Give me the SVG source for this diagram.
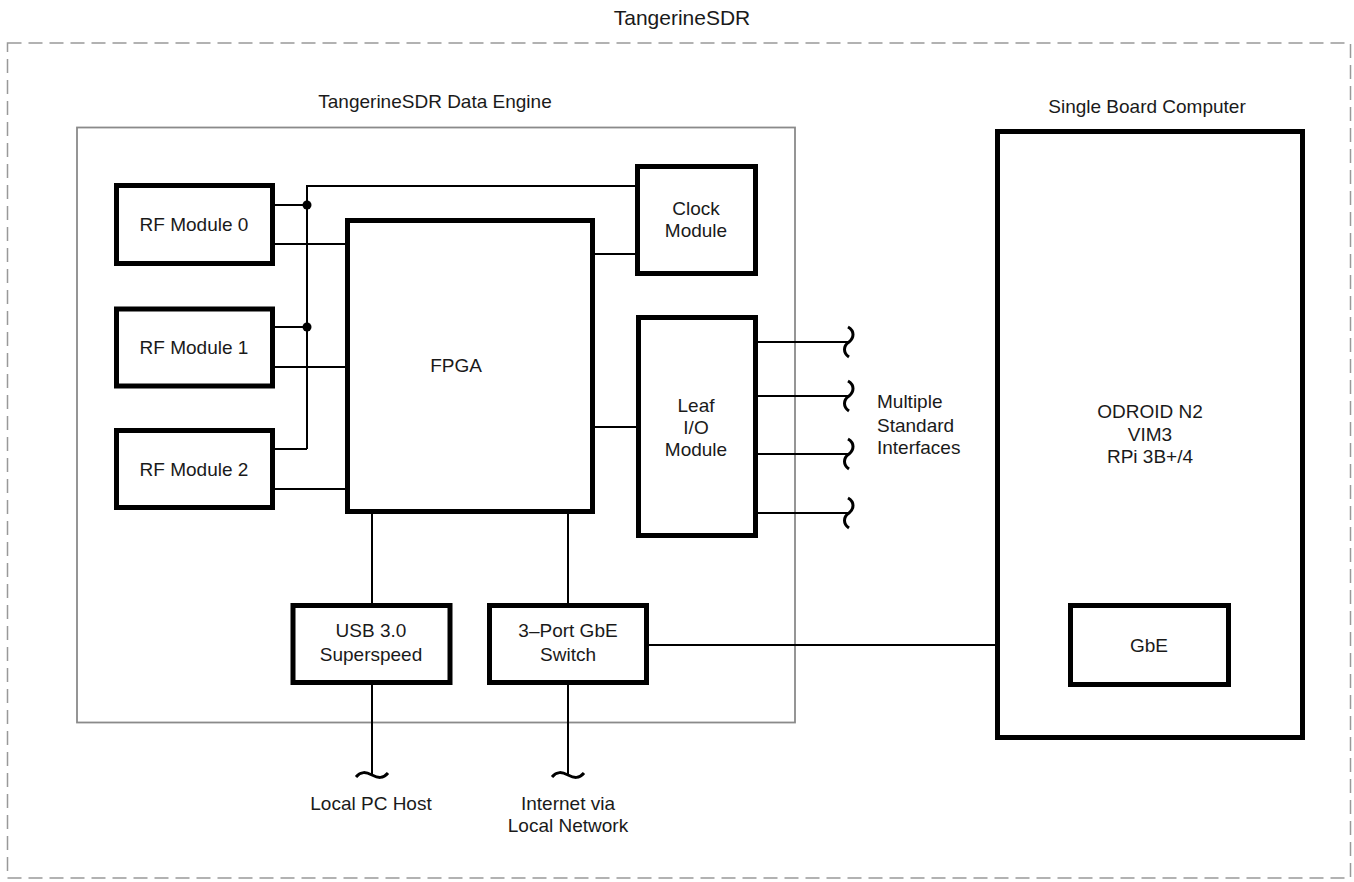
<svg xmlns="http://www.w3.org/2000/svg" width="1354" height="882" viewBox="0 0 1354 882">
<style>
  text { font-family: "Liberation Sans", Arial, sans-serif; font-size: 19px; fill: #1a1a1a; text-anchor: middle; }
  .title { font-size: 21px; }
  .left { text-anchor: start; }
  .box { fill: #ffffff; stroke: #000000; stroke-width: 5; }
  .frame { fill: none; stroke: #999999; stroke-width: 1.5; stroke-dasharray: 14 7; }
  .engine { fill: none; stroke: #8a8a8a; stroke-width: 1.8; }
  .wire { fill: none; stroke: #000000; stroke-width: 2; }
  .tilde { fill: none; stroke: #000000; stroke-width: 3; }
</style>
<rect width="1354" height="882" fill="#ffffff"/>

<g id="system">
  <rect class="frame" x="7.5" y="43" width="1343" height="835"/>
  <text class="title" x="682" y="25">TangerineSDR</text>
</g>

<g id="data-engine">
  <rect class="engine" x="77" y="127.5" width="718" height="595"/>
  <text x="435" y="108">TangerineSDR Data Engine</text>
</g>

<g id="connectors">
  <!-- bus from RF modules to clock -->
  <path class="wire" d="M307 449 V186 H636"/>
  <path class="wire" d="M275 205 H307 M275 327 H307 M275 449 H307"/>
  <circle cx="307" cy="205" r="4.5" fill="#000"/>
  <circle cx="307" cy="327" r="4.5" fill="#000"/>
  <!-- RF to FPGA -->
  <path class="wire" d="M275 244 H346 M275 367 H346 M275 489 H346"/>
  <!-- FPGA to clock / leaf -->
  <path class="wire" d="M594 254 H636 M594 427 H637"/>
  <!-- Leaf to interfaces -->
  <path class="wire" d="M757 342 H849 M757 396 H849 M757 454 H849 M757 513 H849"/>
  <path class="tilde" d="M848 327 C855 331 854 338 849 342 C843 346 843 353 849 357"/>
  <path class="tilde" d="M848 381 C855 385 854 392 849 396 C843 400 843 407 849 411"/>
  <path class="tilde" d="M848 439 C855 443 854 450 849 454 C843 458 843 465 849 469"/>
  <path class="tilde" d="M848 498 C855 502 854 509 849 513 C843 517 843 524 849 528"/>
  <!-- FPGA to USB / switch -->
  <path class="wire" d="M372 514 V604 M568 514 V604"/>
  <!-- USB / switch downward -->
  <path class="wire" d="M372 684 V775 M568 684 V775"/>
  <path class="tilde" d="M356 777 C361 771 366 772 372 775 C378 778 383 779 388 773"/>
  <path class="tilde" d="M552 777 C557 771 562 772 568 775 C574 778 579 779 584 773"/>
  <!-- switch to GbE -->
  <path class="wire" d="M649 645 H1069"/>
</g>

<g id="rf-module-0">
  <rect class="box" x="116.5" y="185.5" width="156" height="78"/>
  <text x="194" y="231">RF Module 0</text>
</g>
<g id="rf-module-1">
  <rect class="box" x="116.5" y="309" width="156" height="77"/>
  <text x="194" y="354">RF Module 1</text>
</g>
<g id="rf-module-2">
  <rect class="box" x="116.5" y="430.5" width="156" height="77"/>
  <text x="194" y="476">RF Module 2</text>
</g>
<g id="fpga">
  <rect class="box" x="347.5" y="220.5" width="245" height="291"/>
  <text x="456" y="372">FPGA</text>
</g>
<g id="clock-module">
  <rect class="box" x="637.5" y="166.5" width="118" height="107"/>
  <text x="696" y="215">Clock</text>
  <text x="696" y="237">Module</text>
</g>
<g id="leaf-io-module">
  <rect class="box" x="638.5" y="317.5" width="117" height="218"/>
  <text x="696" y="412">Leaf</text>
  <text x="696" y="434">I/O</text>
  <text x="696" y="456">Module</text>
</g>
<g id="interfaces-label">
  <text class="left" x="877" y="408">Multiple</text>
  <text class="left" x="877" y="432">Standard</text>
  <text class="left" x="877" y="454">Interfaces</text>
</g>
<g id="usb">
  <rect class="box" x="293" y="605.5" width="157" height="77"/>
  <text x="371" y="637">USB 3.0</text>
  <text x="371" y="661">Superspeed</text>
</g>
<g id="gbe-switch">
  <rect class="box" x="489.5" y="605.5" width="157" height="77"/>
  <text x="568" y="637">3–Port GbE</text>
  <text x="568" y="661">Switch</text>
</g>
<g id="local-pc-host">
  <text x="371" y="810">Local PC Host</text>
</g>
<g id="internet">
  <text x="568" y="810">Internet via</text>
  <text x="568" y="832">Local Network</text>
</g>
<g id="single-board-computer">
  <rect class="box" x="997.5" y="131.5" width="305" height="606"/>
  <text x="1147" y="113">Single Board Computer</text>
  <text x="1150" y="418">ODROID N2</text>
  <text x="1150" y="441">VIM3</text>
  <text x="1150" y="463">RPi 3B+/4</text>
</g>
<g id="gbe">
  <rect class="box" x="1070.5" y="605.5" width="158" height="79"/>
  <text x="1149" y="652">GbE</text>
</g>
</svg>
